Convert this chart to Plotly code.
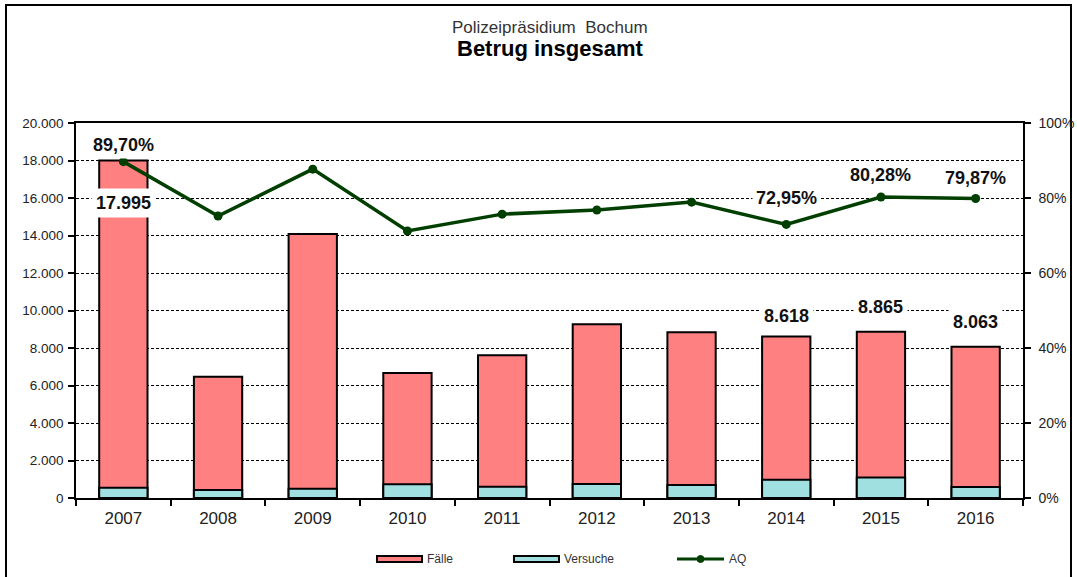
import plotly.graph_objects as go

years = ["2007", "2008", "2009", "2010", "2011", "2012", "2013", "2014", "2015", "2016"]
faelle = [17995, 6470, 14080, 6670, 7620, 9270, 8840, 8618, 8865, 8063]
versuche = [550, 430, 500, 730, 600, 750, 700, 980, 1090, 590]
aq = [0.8970, 0.752, 0.877, 0.712, 0.757, 0.768, 0.789, 0.7295, 0.8028, 0.7987]

left_ticks = [0, 2000, 4000, 6000, 8000, 10000, 12000, 14000, 16000, 18000, 20000]
left_ticktext = ["0", "2.000", "4.000", "6.000", "8.000", "10.000", "12.000",
                 "14.000", "16.000", "18.000", "20.000"]
right_ticks = [0, 0.2, 0.4, 0.6, 0.8, 1.0]
right_ticktext = ["0%", "20%", "40%", "60%", "80%", "100%"]

# labelled points: (year index, text, pixel shift)
aq_labels = [(0, "89,70%", 17), (7, "72,95%", 26), (8, "80,28%", 22), (9, "79,87%", 20)]
bar_labels = [(0, "17.995", -42), (7, "8.618", 20), (8, "8.865", 25), (9, "8.063", 25)]

FONT = "Liberation Sans, Arial, sans-serif"
RED = "#FF8080"
CYAN = "#A0E0E0"
GREEN = "#003F00"

fig = go.Figure()
fig.add_trace(go.Bar(x=years, y=faelle, name="Fälle", marker=dict(color=RED, line=dict(color="black", width=2)),
                     width=0.51, showlegend=False))
fig.add_trace(go.Bar(x=years, y=versuche, name="Versuche", marker=dict(color=CYAN, line=dict(color="black", width=2)),
                     width=0.51, showlegend=False))
fig.add_trace(go.Scatter(x=years, y=aq, name="AQ", yaxis="y2", mode="lines+markers",
                         line=dict(color=GREEN, width=3.5), marker=dict(color=GREEN, size=9),
                         showlegend=False))

# convert pixel coords to paper coords
L, R, T, B = 76, 1023, 123, 498
def px(xp):
    return (xp - L) / (R - L)
def py(yp):
    return (B - yp) / (B - T)

annotations = []
for i, t, s in aq_labels:
    annotations.append(dict(x=i, y=aq[i], xref="x", yref="y2", text="<b>%s</b>" % t, showarrow=False, yshift=s,
                            xanchor="center", yanchor="middle", font=dict(family=FONT, size=18, color="#111"),
                            bgcolor="white", borderpad=3))
for i, t, s in bar_labels:
    annotations.append(dict(x=i, y=faelle[i], xref="x", yref="y", text="<b>%s</b>" % t, showarrow=False, yshift=s,
                            xanchor="center", yanchor="middle", font=dict(family=FONT, size=18, color="#111"),
                            bgcolor="white", borderpad=4))

# titles
annotations.append(dict(x=0.5, y=py(27), xref="paper", yref="paper", text="Polizeipräsidium  Bochum",
                        showarrow=False, yanchor="middle", font=dict(family=FONT, size=17, color="#333")))
annotations.append(dict(x=0.5, y=py(48), xref="paper", yref="paper", text="<b>Betrug insgesamt</b>",
                        showarrow=False, yanchor="middle", font=dict(family=FONT, size=22, color="black")))

shapes = []
# outer frame
shapes.append(dict(type="rect", xref="paper", yref="paper", x0=px(6), x1=px(1071), y0=py(600), y1=py(5),
                   line=dict(color="black", width=2), layer="below"))

# manual legend
ly = 559
shapes.append(dict(type="rect", xref="paper", yref="paper", x0=px(377), x1=px(422), y0=py(ly + 3), y1=py(ly - 3),
                   fillcolor=RED, line=dict(color="black", width=2)))
shapes.append(dict(type="rect", xref="paper", yref="paper", x0=px(514), x1=px(559), y0=py(ly + 3), y1=py(ly - 3),
                   fillcolor=CYAN, line=dict(color="black", width=2)))
shapes.append(dict(type="line", xref="paper", yref="paper", x0=px(677), x1=px(724), y0=py(ly), y1=py(ly),
                   line=dict(color=GREEN, width=3)))
shapes.append(dict(type="circle", xref="paper", yref="paper", x0=px(697), x1=px(704), y0=py(ly + 3.5), y1=py(ly - 3.5),
                   fillcolor=GREEN, line=dict(color=GREEN, width=1)))
for xx, t in [(425, "Fälle"), (562, "Versuche"), (727, "AQ")]:
    annotations.append(dict(x=px(xx), y=py(ly), xref="paper", yref="paper", text=t, showarrow=False,
                            xanchor="left", yanchor="middle", font=dict(family=FONT, size=12, color="#333")))

fig.update_layout(
    width=1077, height=577,
    margin=dict(l=L, r=1077 - R, t=T, b=577 - B, pad=0, autoexpand=False),
    paper_bgcolor="white", plot_bgcolor="white",
    barmode="overlay",
    font=dict(family=FONT, color="#222"),
    annotations=annotations,
    shapes=shapes,
    xaxis=dict(type="category", showline=True, linecolor="black", linewidth=1.5, mirror=True,
               ticks="outside", tickson="boundaries", ticklen=6, tickcolor="black", tickwidth=1.5,
               showgrid=False, tickfont=dict(size=17, color="#222"), range=[-0.5, 9.5],
               ticklabelstandoff=4, automargin=False),
    yaxis=dict(range=[0, 20000], tickvals=left_ticks, ticktext=left_ticktext, showline=True,
               linecolor="black", linewidth=1.5, ticks="outside", ticklen=6, tickcolor="black",
               tickwidth=1.5, showgrid=True, gridcolor="black", gridwidth=1, griddash="3px,2px",
               zeroline=False, tickfont=dict(size=13.5, color="#222"), ticklabelstandoff=2,
               automargin=False),
    yaxis2=dict(range=[0, 1], overlaying="y", side="right", tickvals=right_ticks, ticktext=right_ticktext,
                showline=True, linecolor="black", linewidth=1.5, ticks="outside", ticklen=6,
                tickcolor="black", tickwidth=1.5, showgrid=False, zeroline=False,
                tickfont=dict(size=14, color="#222"), ticklabelstandoff=5, automargin=False),
)

fig.write_html("out.html", config={"displayModeBar": False},
               post_script="document.body.style.margin='0';document.body.style.overflow='hidden';")
